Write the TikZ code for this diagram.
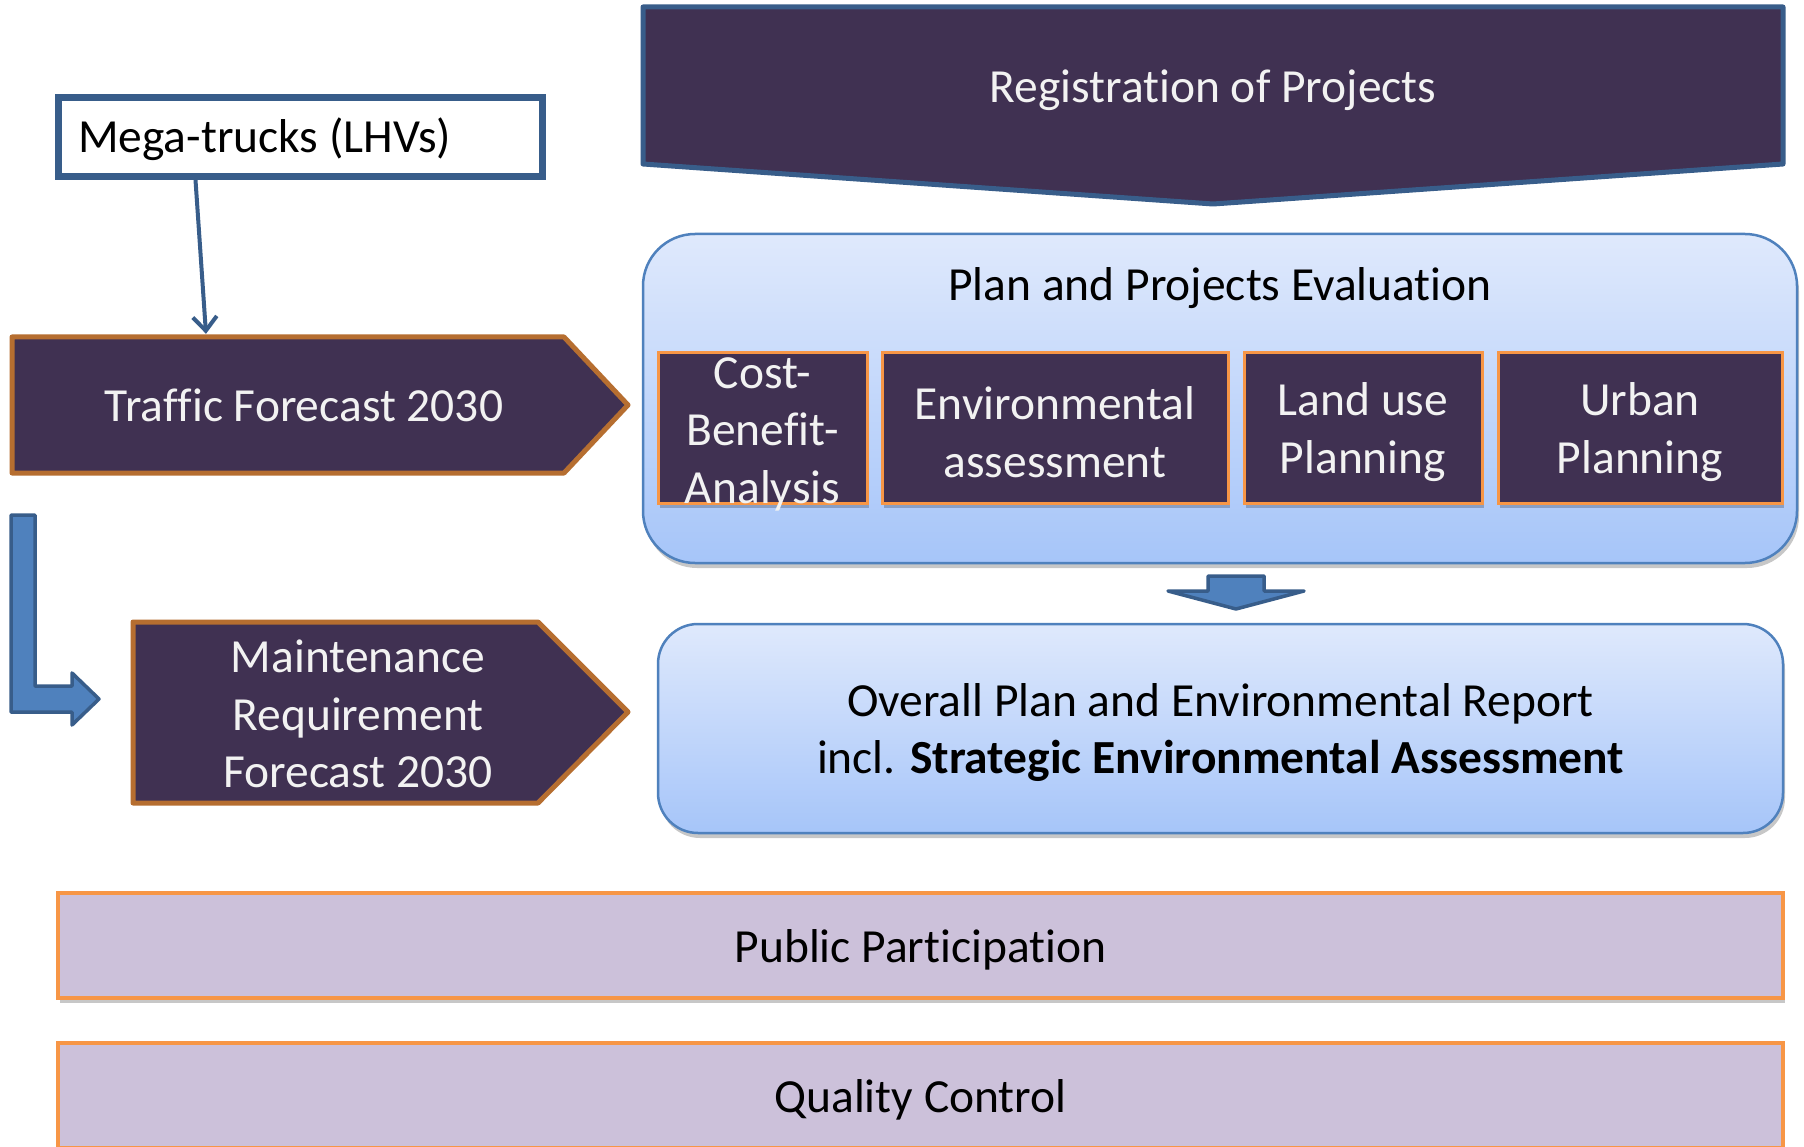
\documentclass[tikz,border=0pt]{standalone}
\usepackage{fontspec}
\setmainfont{Carlito}[Ligatures={NoCommon}]
\usetikzlibrary{shadows,arrows.meta}

% zero kern that keeps letter pairs apart (no ti / fi / ffi ligatures)
\newcommand{\nlg}{\kern0pt }

\definecolor{deeppurple}{RGB}{64,49,82}
\definecolor{bannerblue}{RGB}{56,93,138}
\definecolor{accentblue}{RGB}{79,129,189}
\definecolor{orangeline}{RGB}{247,150,70}
\definecolor{copperline}{RGB}{182,110,48}
\definecolor{lavender}{RGB}{204,193,218}
\definecolor{paletext}{RGB}{242,242,242}
\definecolor{skytop}{RGB}{223,233,252}
\definecolor{skybottom}{RGB}{166,197,249}

\begin{document}
\begin{tikzpicture}[x=1pt,y=-1pt,
  font=\fontsize{47.5}{57.5}\selectfont,
  lighttext/.style={text=paletext,align=center},
  darktext/.style={text=black,align=center},
  softshadow/.style={drop shadow={shadow xshift=2pt,shadow yshift=-5pt,opacity=.22,fill=black}},
  bannerline/.style={draw=bannerblue,line width=5pt,line join=round},
  pentline/.style={draw=copperline,line width=5pt,line join=round},
  blockarrow/.style={draw=bannerblue,fill=accentblue,line width=3.5pt,line join=round},
  connector/.style={draw=bannerblue,line width=4pt,
    -{Straight Barb[length=14pt,width=24pt,line width=4pt]}},
  planbox/.style={draw=accentblue,line width=2.5pt,top color=skytop,bottom color=skybottom,
    inner sep=0pt,softshadow},
  innerbox/.style={draw=orangeline,line width=3pt,fill=deeppurple,minimum height=150pt,
    inner sep=0pt,softshadow},
  lavbar/.style={draw=orangeline,line width=3.5pt,fill=lavender,inner sep=0pt,softshadow},
  lower/.style={yshift=-4pt}]

\clip (0,0) rectangle (1804,1147);
\fill[white] (0,0) rectangle (1804,1147);

% registration banner
\draw[bannerline,fill=deeppurple] (643,7) -- (1783,7) -- (1783,164) -- (1213,204) -- (643,164) -- cycle;
\node[lighttext] (reg) at (1213,90) {Registrat\nlg ion of Projects};

% mega-trucks box
\node[draw=bannerblue,line width=7pt,fill=white,anchor=west,minimum width=484pt,
  minimum height=79pt,inner sep=0pt] (mega) at (55,137) {};
\node[anchor=west,text=black,yshift=-2pt,inner sep=0pt] (megatext) at ([xshift=23pt]mega.west) {Mega-trucks (LHVs)};

% traffic forecast pentagon
\draw[pentline,fill=deeppurple] (12,337) -- (564,337) -- (628,405) -- (564,473) -- (12,473) -- cycle;
\node[minimum height=136pt,inner sep=0pt] (traffic) at (304,405) {};
\node[lighttext] (traffictext) at (traffic.center) {Traf\nlg f\nlg ic Forecast 2030};

\draw[connector] ([xshift=-105pt]mega.south) -- ([xshift=-98pt,yshift=3pt]traffic.north);

% bent block arrow
\draw[blockarrow] (11,515) -- (35,515) -- (35,686) -- (72,686) -- (72,673) -- (99,699)
  -- (72,725) -- (72,712) -- (11,712) -- cycle;

% maintenance pentagon
\draw[pentline,fill=deeppurple] (133,622) -- (538,622) -- (628,712) -- (538,803) -- (133,803) -- cycle;
\node[lighttext] (maint) at (358,714) {Maintenance\\Requirement\\Forecast 2030};

% evaluation panel
\node[planbox,rounded corners=52pt,minimum width=1154pt,minimum height=329pt] (plan) at (1220,398.5) {};
\node[darktext] (plantitle) at (1220,288) {Plan and Projects Evaluat\nlg ion};

\node[innerbox,minimum width=209pt] (cba) at (762.5,428) {};
\node[lighttext,yshift=-6pt] (cbatext) at (cba.center) {Cost-\\Benef\nlg it-\\Analysis};
\node[innerbox,minimum width=346pt] (env) at (1055,428) {};
\node[lighttext,lower] (envtext) at (env.center) {Environmental\\assessment};
\node[innerbox,minimum width=238pt] (land) at (1363,428) {};
\node[lighttext,lower] (landtext) at (land.center) {Land use\\Planning};
\node[innerbox,minimum width=284pt] (urban) at (1640,428) {};
\node[lighttext,lower] (urbantext) at (urban.center) {Urban\\Planning};

% small down arrow
\draw[blockarrow] (1208,576) -- (1264,576) -- (1264,591) -- (1304,591) -- (1236,609)
  -- (1168,591) -- (1208,591) -- cycle;

% overall report
\node[planbox,rounded corners=40pt,minimum width=1125pt,minimum height=209pt] (overall) at (1220.5,728.5) {};
\node[darktext,lower] (overalltext) at (overall.center)
  {Overall Plan and Environmental Report\\incl. \textbf{Strategic Environmental Assessment}};

% bottom bars
\node[lavbar,minimum width=1725pt,minimum height=105pt] (public) at (920.5,945.5) {};
\node[darktext,lower] (publictext) at (public.center) {Public Part\nlg icipat\nlg ion};
\node[lavbar,minimum width=1725pt,minimum height=105pt] (quality) at (920.5,1095.5) {};
\node[darktext,lower] (qualitytext) at (quality.center) {Quality Control};

\end{tikzpicture}
\end{document}
